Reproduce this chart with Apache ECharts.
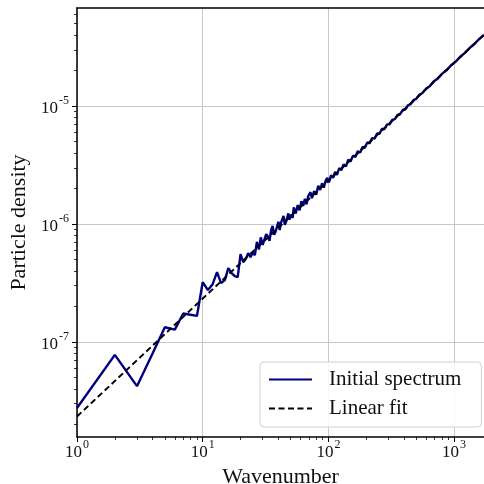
<!DOCTYPE html>
<html>
<head>
<meta charset="utf-8">
<script src="https://cdn.jsdelivr.net/npm/echarts@6/dist/echarts.min.js"></script>
<style>
html,body{margin:0;padding:0;background:#fff;}
#chart{width:484px;height:484px;}
</style>
</head>
<body>
<div id="chart"></div>
<script>
// ---- data ----
const wavenumbers = [1,2,3,4,5,6,7,8,9,10,11,12,13,14,15,16,17,18,19,20,21,22,23,24,25,
  26,27,28,29,30,31,32,33,34,35,36,37,38,40,41,42,44,45,46,48,49,50,52,53,55,57,59,61,63,65,67,69,
  72,74,77,80,83,86,89,92,95,98,101,105,109,113,117,122,127,132,138,144,150,157,164,171,179,
  187,195,204,213,223,233,244,255,267,280,293,307,322,338,355,372,390,410,430,450,475,500,
  530,560,600,640,690,740,800,870,950,1030,1120,1220,1330,1450,1580,1730];
const spectrum = [2.75e-8,7.76e-8,4.21e-8,8.0e-8,1.33e-7,1.27e-7,1.74e-7,1.70e-7,1.66e-7,
  3.21e-7,2.75e-7,3.09e-7,3.91e-7,3.15e-7,3.34e-7,4.23e-7,3.83e-7,3.61e-7,3.54e-7,5.55e-7,
  4.75e-7,5.04e-7,5.66e-7,5.24e-7,5.70e-7,
  5.45e-7,7.05e-7,6.07e-7,7.70e-7,6.64e-7,6.50e-7,8.20e-7,7.84e-7,7.21e-7,8.81e-7,9.65e-7,
  8.10e-7,8.59e-7,1.044e-6,8.88e-7,1.028e-6,1.169e-6,9.86e-7,1.040e-6,1.230e-6,1.085e-6,
  1.200e-6,1.127e-6,1.383e-6,1.230e-6,1.448e-6,1.306e-6,1.563e-6,1.424e-6,1.636e-6,1.467e-6,
  1.720e-6,1.862e-6,1.655e-6,1.902e-6,1.771e-6,2.108e-6,1.944e-6,2.219e-6,2.036e-6,2.324e-6,
  2.466e-6,2.259e-6,2.593e-6,2.464e-6,2.765e-6,2.617e-6,2.985e-6,2.870e-6,3.199e-6,3.087e-6,
  3.523e-6,3.390e-6,3.804e-6,3.707e-6,4.144e-6,4.046e-6,4.510e-6,4.430e-6,4.920e-6,4.839e-6,
  5.352e-6,5.293e-6,5.856e-6,5.823e-6,6.408e-6,6.394e-6,6.998e-6,7.010e-6,7.653e-6,7.757e-6,
  8.437e-6,8.538e-6,9.269e-6,9.410e-6,1.017e-5,1.038e-5,1.123e-5,1.153e-5,1.250e-5,1.292e-5,
  1.412e-5,1.476e-5,1.624e-5,1.710e-5,1.879e-5,2.013e-5,2.229e-5,2.388e-5,2.623e-5,2.828e-5,
  3.114e-5,3.365e-5,3.696e-5,4.031e-5];
const fitWavenumbers = [1, 1730];
const fitValues = [2.33e-8, 4.03e-5];
const xMajorTicks = [1, 10, 100, 1000];
const xMinorTicks = [2,3,4,5,6,7,8,9,20,30,40,50,60,70,80,90,200,300,400,500,600,700,800,900];
const yMajorTicks = [1e-7, 1e-6, 1e-5];
const yMinorTicks = [2e-8,3e-8,4e-8,5e-8,6e-8,7e-8,8e-8,9e-8,2e-7,3e-7,4e-7,5e-7,6e-7,7e-7,8e-7,9e-7,
  2e-6,3e-6,4e-6,5e-6,6e-6,7e-6,8e-6,9e-6,2e-5,3e-5,4e-5,5e-5,6e-5];
const seriesNames = ['Initial spectrum', 'Linear fit'];

const X_MIN = 1, X_MAX = 1730, Y_MIN = 1.56e-8, Y_MAX = 6.8e-5;
const FONT = "'Liberation Serif', 'DejaVu Serif', serif";

function powLabel(v) {
  const e = Math.round(Math.log10(v));
  return '{b|10}{s|' + e + '}';
}
const rich = {
  b: { fontFamily: FONT, fontSize: 17, color: '#111', lineHeight: 22, verticalAlign: 'bottom' },
  s: { fontFamily: FONT, fontSize: 12, color: '#111', lineHeight: 22, verticalAlign: 'top', padding: [0,0,6,1] }
};

const chart = echarts.init(document.getElementById('chart'), null, { renderer: 'canvas' });
const option = {
  animation: false,
  backgroundColor: '#fff',
  grid: { left: 77, right: 0, top: 8, bottom: 47, containLabel: false, outerBoundsMode: 'none' },
  xAxis: [
    {
      type: 'log', logBase: 10, min: X_MIN, max: X_MAX, position: 'bottom',
      name: 'Wavenumber', nameLocation: 'middle', nameGap: 13,
      nameTextStyle: { fontFamily: FONT, fontSize: 22, color: '#111' },
      axisLine: { show: true, lineStyle: { color: '#000', width: 1.5 } },
      axisTick: { show: true, inside: false, length: 5, customValues: xMajorTicks, lineStyle: { color: '#000', width: 1 } },
      axisLabel: { show: true, customValues: xMajorTicks, margin: 2, formatter: powLabel, rich: rich },
      splitLine: { show: true, lineStyle: { color: '#c8c8c8', width: 1 } },
      minorTick: { show: false }
    },
    {
      type: 'log', logBase: 10, min: X_MIN, max: X_MAX, position: 'bottom', gridIndex: 0,
      axisLine: { show: false },
      axisTick: { show: true, length: 3, customValues: xMinorTicks, lineStyle: { color: '#000', width: 0.8 } },
      axisLabel: { show: false },
      splitLine: { show: false }
    },
    {
      type: 'log', logBase: 10, min: X_MIN, max: X_MAX, position: 'top', gridIndex: 0,
      axisLine: { show: true, lineStyle: { color: '#000', width: 1.5 } },
      axisTick: { show: false }, axisLabel: { show: false }, splitLine: { show: false }
    }
  ],
  yAxis: [
    {
      type: 'log', logBase: 10, min: Y_MIN, max: Y_MAX, position: 'left',
      name: 'Particle density', nameLocation: 'middle', nameGap: 40, nameRotate: 90,
      nameTextStyle: { fontFamily: FONT, fontSize: 22, color: '#111' },
      axisLine: { show: true, lineStyle: { color: '#000', width: 1.5 } },
      axisTick: { show: true, length: 5, customValues: yMajorTicks, lineStyle: { color: '#000', width: 1 } },
      axisLabel: { show: true, customValues: yMajorTicks, margin: 8, formatter: powLabel, rich: rich },
      splitLine: { show: true, lineStyle: { color: '#c8c8c8', width: 1 } }
    },
    {
      type: 'log', logBase: 10, min: Y_MIN, max: Y_MAX, position: 'left', gridIndex: 0,
      axisLine: { show: false },
      axisTick: { show: true, length: 3, customValues: yMinorTicks, lineStyle: { color: '#000', width: 0.8 } },
      axisLabel: { show: false },
      splitLine: { show: false }
    }
  ],
  legend: {
    data: seriesNames,
    orient: 'vertical',
    left: 260, top: 362,
    padding: [7, 20, 8, 8],
    itemGap: 8,
    itemWidth: 43, itemHeight: 14,
    itemStyle: { opacity: 0 },
    backgroundColor: 'rgba(255,255,255,0.85)',
    borderColor: '#d0d0d0', borderWidth: 1, borderRadius: 4,
    textStyle: { fontFamily: FONT, fontSize: 21, color: '#111', padding: [0, 0, 0, 12] }
  },
  series: [
    {
      name: seriesNames[0], type: 'line', xAxisIndex: 0, yAxisIndex: 0,
      data: wavenumbers.map((k, i) => [k, spectrum[i]]),
      symbol: 'none', smooth: false,
      lineStyle: { color: '#00007f', width: 2.4 },
      itemStyle: { color: '#00007f' },
      z: 3
    },
    {
      name: seriesNames[1], type: 'line', xAxisIndex: 0, yAxisIndex: 0,
      data: fitWavenumbers.map((k, i) => [k, fitValues[i]]),
      symbol: 'none',
      lineStyle: { color: '#000', width: 2, type: [6, 3.5] },
      itemStyle: { color: '#000' },
      z: 4
    }
  ]
};
chart.setOption(option);
</script>
</body>
</html>
